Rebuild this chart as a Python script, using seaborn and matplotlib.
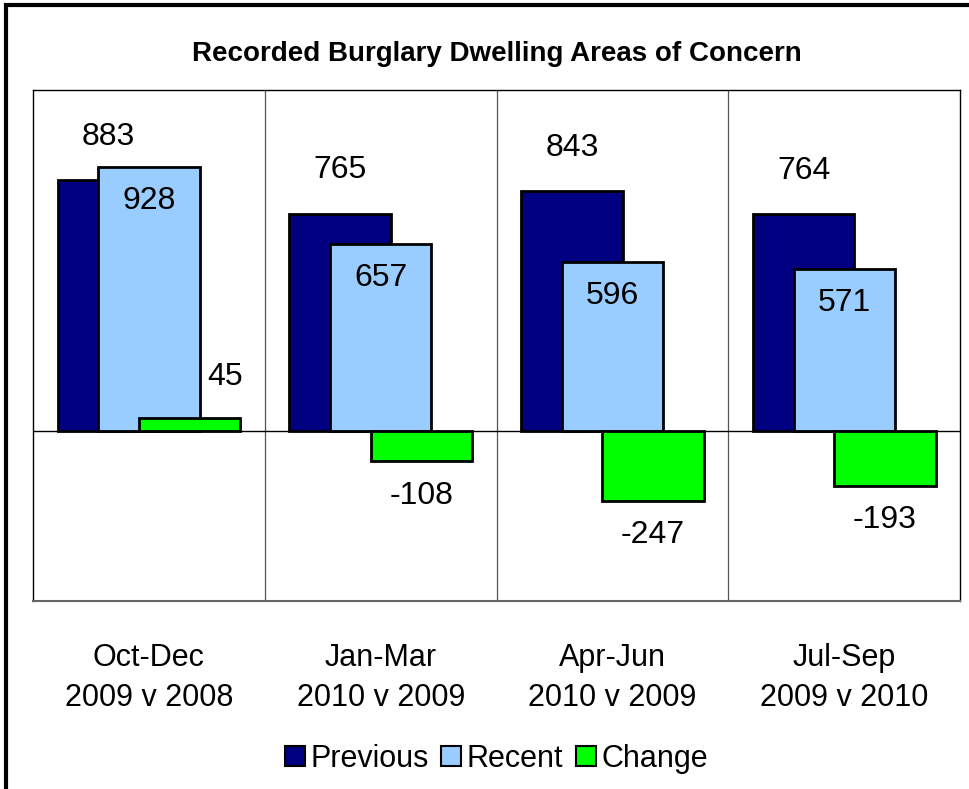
import numpy as np
import pandas as pd
import seaborn as sns
import matplotlib.pyplot as plt
from matplotlib.patches import Rectangle
from matplotlib.lines import Line2D

sns.set_style("white")
plt.rcParams['font.family'] = ['Liberation Sans', 'DejaVu Sans']
plt.rcParams['text.color'] = 'black'
plt.rcParams['xtick.color'] = 'black'

# data
periods = ["Oct-Dec\n2009 v 2008", "Jan-Mar\n2010 v 2009", "Apr-Jun\n2010 v 2009", "Jul-Sep\n2009 v 2010"]
previous = [883, 765, 843, 764]
recent = [928, 657, 596, 571]
change = [45, -108, -247, -193]

series = ["Previous", "Recent", "Change"]
colors = ["#000080", "#99CCFF", "#00FF00"]
offsets = [-0.175, 0.0, 0.175]
bar_w = 0.437

fig = plt.figure(figsize=(9.69, 7.89), dpi=100)
ax = fig.add_axes([0.034, 0.238, 0.957, 0.648])

# overlapping bars: draw each series, then nudge its patches sideways
for vals, col, off in zip([previous, recent, change], colors, offsets):
    n0 = len(ax.patches)
    sns.barplot(x=periods, y=vals, color=col, edgecolor="black", linewidth=2,
                width=bar_w, errorbar=None, saturation=1, ax=ax)
    for p in ax.patches[n0:]:
        p.set_x(p.get_x() + off)

ax.set_ylim(-600, 1200)
ax.set_xlim(-0.5, 3.5)
ax.axhline(0, color="black", lw=1, zorder=3)
for xb in [0.5, 1.5, 2.5]:
    ax.axvline(xb, color="#555555", lw=0.9, zorder=0)

fs = 23
for i in range(len(periods)):
    ax.text(i + offsets[0], previous[i] + 152, str(previous[i]), ha="center", va="center", fontsize=fs)
    ax.text(i + offsets[1], recent[i] - 120, str(recent[i]), ha="center", va="center", fontsize=fs)
    if change[i] >= 0:
        ax.text(i + offsets[2] + 0.155, change[i] + 145, str(change[i]), ha="center", va="center", fontsize=fs)
    else:
        ax.text(i + offsets[2], change[i] - 120, str(change[i]), ha="center", va="center", fontsize=fs)

ax.set_yticks([])
ax.set_xticks(range(len(periods)))
ax.set_xticklabels(periods, fontsize=22, linespacing=1.45)
ax.tick_params(axis="x", length=0, pad=30)
ax.set_xlabel("")
for side in ["left", "top", "right"]:
    ax.spines[side].set_color("black")
    ax.spines[side].set_linewidth(1)
ax.spines["bottom"].set_color("#666666")
ax.spines["bottom"].set_linewidth(1.5)

fig.text(0.513, 0.931, "Recorded Burglary Dwelling Areas of Concern", ha="center", va="center",
         fontsize=20, fontweight="bold")

handles = [Line2D([], [], marker="s", ls="", markersize=14, markerfacecolor=c,
                  markeredgecolor="black", markeredgewidth=1.5) for c in colors]
fig.legend(handles, series, loc="center", bbox_to_anchor=(0.512, 0.038), ncol=3, frameon=False,
           fontsize=22, handletextpad=0.15, columnspacing=0.4, handlelength=0.7)

# outer chart frame (cropped on the right and bottom)
fig.patches.append(Rectangle((0.006, -0.1), 1.2, 0.1 + 0.9935, transform=fig.transFigure,
                             fill=False, edgecolor="black", lw=3))

fig.savefig("out.png", dpi=100)
